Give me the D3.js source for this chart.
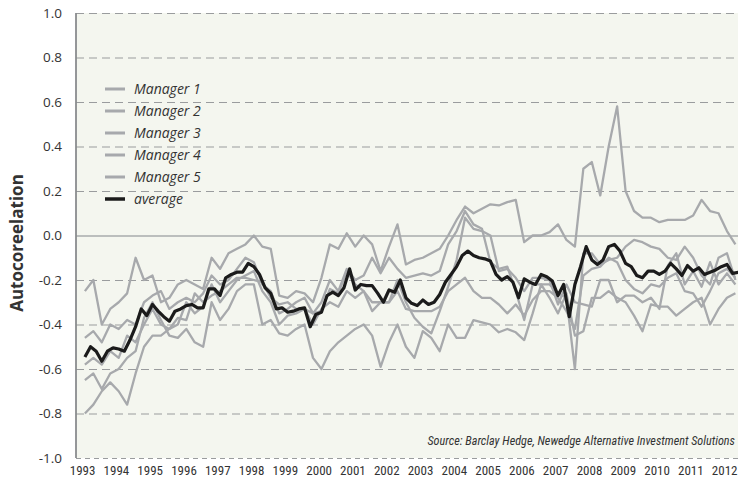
<!DOCTYPE html>
<html><head><meta charset="utf-8">
<script src="https://cdn.jsdelivr.net/npm/d3@7"></script>
<style>body{margin:0;background:#fff}svg{display:block}</style>
</head><body><svg id="c" width="738" height="482"></svg>
<script>
const quarters = [
"1993-02","1993-05","1993-08","1993-11","1994-02","1994-05","1994-08","1994-11",
"1995-02","1995-05","1995-08","1995-11","1996-02","1996-05","1996-08","1996-11",
"1997-02","1997-05","1997-08","1997-11","1998-02","1998-05","1998-08","1998-11",
"1999-02","1999-05","1999-08","1999-11","2000-02","2000-05","2000-08","2000-11",
"2001-02","2001-05","2001-08","2001-11","2002-02","2002-05","2002-08","2002-11",
"2003-02","2003-05","2003-08","2003-11","2004-02","2004-05","2004-08","2004-11",
"2005-02","2005-05","2005-08","2005-11","2006-02","2006-05","2006-08","2006-11",
"2007-02","2007-05","2007-08","2007-11","2008-02","2008-05","2008-08","2008-11",
"2009-02","2009-05","2009-08","2009-11","2010-02","2010-05","2010-08","2010-11",
"2011-02","2011-05","2011-08","2011-11","2012-02","2012-05"];

const bimonths = [
"1993-02","1993-04","1993-06","1993-08","1993-10","1993-12","1994-02","1994-04","1994-06","1994-08","1994-10","1994-12",
"1995-02","1995-04","1995-06","1995-08","1995-10","1995-12","1996-02","1996-04","1996-06","1996-08","1996-10","1996-12",
"1997-02","1997-04","1997-06","1997-08","1997-10","1997-12","1998-02","1998-04","1998-06","1998-08","1998-10","1998-12",
"1999-02","1999-04","1999-06","1999-08","1999-10","1999-12","2000-02","2000-04","2000-06","2000-08","2000-10","2000-12",
"2001-02","2001-04","2001-06","2001-08","2001-10","2001-12","2002-02","2002-04","2002-06","2002-08","2002-10","2002-12",
"2003-02","2003-04","2003-06","2003-08","2003-10","2003-12","2004-02","2004-04","2004-06","2004-08","2004-10","2004-12",
"2005-02","2005-04","2005-06","2005-08","2005-10","2005-12","2006-02","2006-04","2006-06","2006-08","2006-10","2006-12",
"2007-02","2007-04","2007-06","2007-08","2007-10","2007-12","2008-02","2008-04","2008-06","2008-08","2008-10","2008-12",
"2009-02","2009-04","2009-06","2009-08","2009-10","2009-12","2010-02","2010-04","2010-06","2010-08","2010-10","2010-12",
"2011-02","2011-04","2011-06","2011-08","2011-10","2011-12","2012-02","2012-04","2012-06"];

const manager1 = [-0.25,-0.20,-0.40,-0.33,-0.30,-0.26,-0.10,-0.20,-0.18,-0.30,-0.28,-0.22,-0.20,-0.22,-0.24,-0.10,
-0.15,-0.08,-0.06,-0.04,0.00,-0.05,-0.06,-0.27,-0.28,-0.25,-0.26,-0.30,-0.19,-0.04,-0.06,0.01,
-0.05,0.00,-0.04,-0.16,-0.05,0.05,-0.13,-0.11,-0.10,-0.08,-0.06,0.00,0.07,0.13,0.10,0.12,
0.14,0.135,0.15,0.16,-0.03,0.00,0.00,0.015,0.05,-0.02,-0.05,0.30,0.33,0.18,0.40,0.58,
0.20,0.11,0.08,0.08,0.06,0.07,0.07,0.07,0.09,0.16,0.11,0.10,0.02,-0.04];
const manager2 = [-0.46,-0.43,-0.48,-0.40,-0.42,-0.38,-0.40,-0.30,-0.27,-0.25,-0.33,-0.30,-0.28,-0.30,-0.26,-0.18,
-0.22,-0.20,-0.15,-0.10,-0.12,-0.22,-0.25,-0.35,-0.33,-0.30,-0.28,-0.35,-0.30,-0.20,-0.25,-0.15,
-0.20,-0.18,-0.10,-0.17,-0.10,-0.15,-0.19,-0.18,-0.17,-0.18,-0.16,-0.04,0.02,0.11,0.05,0.03,
-0.12,-0.15,-0.14,-0.25,-0.38,-0.22,-0.22,-0.22,-0.26,-0.28,-0.60,-0.08,-0.08,-0.13,-0.11,-0.10,
-0.05,-0.02,-0.03,-0.05,-0.06,-0.10,-0.11,-0.05,-0.10,-0.18,-0.22,-0.10,-0.08,-0.20];
const manager3 = [-0.58,-0.55,-0.58,-0.52,-0.55,-0.45,-0.48,-0.40,-0.33,-0.40,-0.42,-0.40,-0.30,-0.35,-0.32,-0.22,
-0.30,-0.25,-0.20,-0.18,-0.16,-0.25,-0.30,-0.40,-0.36,-0.35,-0.33,-0.40,-0.33,-0.30,-0.32,-0.25,
-0.28,-0.25,-0.30,-0.30,-0.30,-0.25,-0.33,-0.34,-0.34,-0.34,-0.32,-0.25,-0.22,-0.19,-0.25,-0.28,
-0.28,-0.31,-0.35,-0.31,-0.36,-0.29,-0.25,-0.25,-0.28,-0.34,-0.42,-0.18,-0.15,-0.14,-0.10,-0.12,
-0.20,-0.24,-0.26,-0.22,-0.23,-0.19,-0.17,-0.25,-0.26,-0.32,-0.25,-0.17,-0.15,-0.19];
const manager4 = [-0.65,-0.62,-0.69,-0.62,-0.60,-0.55,-0.52,-0.37,-0.30,-0.38,-0.45,-0.46,-0.42,-0.48,-0.50,-0.30,
-0.38,-0.33,-0.25,-0.22,-0.22,-0.40,-0.38,-0.44,-0.45,-0.42,-0.40,-0.55,-0.60,-0.52,-0.48,-0.45,
-0.42,-0.40,-0.45,-0.59,-0.48,-0.40,-0.50,-0.55,-0.43,-0.46,-0.52,-0.40,-0.46,-0.46,-0.38,-0.39,
-0.40,-0.435,-0.42,-0.435,-0.47,-0.35,-0.22,-0.28,-0.35,-0.26,-0.45,-0.43,-0.28,-0.28,-0.25,-0.28,
-0.30,-0.36,-0.43,-0.31,-0.32,-0.32,-0.36,-0.33,-0.30,-0.28,-0.40,-0.33,-0.28,-0.26];
const manager5 = [-0.80,-0.76,-0.70,-0.66,-0.70,-0.76,-0.62,-0.50,-0.45,-0.45,-0.42,-0.37,-0.38,-0.26,-0.30,-0.27,
-0.25,-0.22,-0.19,-0.19,-0.20,-0.21,-0.28,-0.31,-0.30,-0.33,-0.33,-0.35,-0.34,-0.24,-0.26,-0.16,
-0.22,-0.25,-0.34,-0.30,-0.30,-0.20,-0.30,-0.37,-0.41,-0.44,-0.34,-0.23,-0.11,0.08,0.03,0.02,
0.00,-0.16,-0.15,-0.19,-0.25,-0.19,-0.19,-0.20,-0.31,-0.22,-0.30,-0.31,-0.32,-0.20,-0.20,-0.30,
-0.27,-0.27,-0.30,-0.28,-0.33,-0.135,-0.08,-0.22,-0.16,-0.23,-0.12,-0.22,-0.17,-0.22];
const average = [-0.546,-0.50,-0.52,-0.565,-0.52,-0.505,-0.51,-0.52,-0.47,-0.41,-0.33,-0.36,
-0.31,-0.34,-0.365,-0.385,-0.34,-0.33,-0.315,-0.31,-0.325,-0.325,-0.24,-0.24,
-0.27,-0.19,-0.175,-0.165,-0.165,-0.125,-0.14,-0.175,-0.235,-0.26,-0.33,-0.325,
-0.345,-0.34,-0.33,-0.325,-0.41,-0.355,-0.345,-0.27,-0.255,-0.27,-0.235,-0.15,
-0.245,-0.22,-0.225,-0.225,-0.26,-0.30,-0.245,-0.255,-0.20,-0.28,-0.305,-0.315,
-0.29,-0.31,-0.30,-0.265,-0.21,-0.175,-0.14,-0.09,-0.07,-0.09,-0.10,-0.105,
-0.115,-0.175,-0.20,-0.185,-0.21,-0.28,-0.195,-0.21,-0.22,-0.175,-0.185,-0.205,
-0.27,-0.22,-0.365,-0.22,-0.14,-0.05,-0.11,-0.13,-0.11,-0.05,-0.04,-0.07,
-0.125,-0.14,-0.18,-0.19,-0.16,-0.16,-0.175,-0.16,-0.125,-0.15,-0.18,-0.135,
-0.16,-0.145,-0.175,-0.165,-0.155,-0.14,-0.13,-0.17,-0.165];

const seriesNames = ["Manager 1","Manager 2","Manager 3","Manager 4","Manager 5","average"];
const yTicks = [1.0,0.8,0.6,0.4,0.2,0.0,-0.2,-0.4,-0.6,-0.8,-1.0];
const yearTicks = [1993,1994,1995,1996,1997,1998,1999,2000,2001,2002,2003,2004,2005,2006,2007,2008,2009,2010,2011,2012];
const yTitle = "Autocoreelation";
const sourceNote = "Source: Barclay Hedge, Newedge Alternative Investment Solutions";

const NARROW = "'Liberation Sans Narrow','Roboto Condensed','DejaVu Sans Condensed',Arial,sans-serif";
const HUMAN = "'Open Sans','Noto Sans','Liberation Sans',Arial,sans-serif";
const svg = d3.select("#c");
const L = 76, R = 738, T = 13, B = 458;
const toYear = s => { const [yy, mm] = s.split("-").map(Number); return yy + (mm - 1) / 12; };
const x = d3.scaleLinear().domain([1992.82, 2012.41]).range([L, R]);
const y = d3.scaleLinear().domain([-1, 1]).range([B, T]);

svg.append("rect").attr("x", L).attr("y", T).attr("width", R - L).attr("height", B - T).attr("fill", "#f4f6ef");

const yAxis = d3.axisLeft(y).tickValues(yTicks).tickSize(-(R - L)).tickPadding(14).tickFormat(d => d.toFixed(1));
const gy = svg.append("g").attr("transform", `translate(${L},0)`).call(yAxis);
gy.select(".domain").remove();
gy.selectAll(".tick line")
  .attr("stroke", d => d === 0 ? "#a9abad" : "#9a9c9e")
  .attr("stroke-width", d => d === 0 ? 1.6 : 1.1)
  .attr("stroke-dasharray", d => d === 0 ? null : (d === -1 ? "5,4" : "8,5"));
gy.selectAll(".tick text").attr("font-family", HUMAN).attr("font-size", 13.5).attr("fill", "#333");
svg.append("line").attr("x1", L).attr("x2", L).attr("y1", T).attr("y2", B).attr("stroke", "#8a8c8e").attr("stroke-width", 1.8);

const xAxis = d3.axisBottom(x).tickValues(yearTicks).tickSize(0).tickPadding(8).tickFormat(d3.format("d"));
const gx = svg.append("g").attr("transform", `translate(0,${B})`).call(xAxis);
gx.select(".domain").remove();
gx.selectAll(".tick text").attr("font-family", NARROW).attr("font-size", 13).attr("fill", "#333");

svg.append("text").attr("transform", `translate(23,243) rotate(-90)`).attr("text-anchor", "middle")
  .attr("font-family", HUMAN).attr("font-weight", "bold")
  .attr("font-size", 17).attr("fill", "#333").text(yTitle);

svg.append("text").attr("x", 735).attr("y", 445).attr("text-anchor", "end")
  .attr("font-family", NARROW).attr("font-style", "italic").attr("font-size", 12.2).attr("fill", "#333").text(sourceNote);

const qDates = quarters.map(toYear);
const bDates = bimonths.map(toYear);
const qLine = d3.line().x((d, i) => x(qDates[i])).y(d => y(d));
const bLine = d3.line().x((d, i) => x(bDates[i])).y(d => y(d));
const managers = [manager1, manager2, manager3, manager4, manager5];
const g = svg.append("g");
managers.forEach(m => g.append("path").datum(m).attr("d", qLine).attr("fill", "none")
  .attr("stroke", "#a7a9ac").attr("stroke-width", 2.3).attr("stroke-linejoin", "round"));
g.append("path").datum(average).attr("d", bLine).attr("fill", "none")
  .attr("stroke", "#1b1b1b").attr("stroke-width", 3.2).attr("stroke-linejoin", "round");

const lg = svg.append("g");
seriesNames.forEach((n, i) => {
  const yy = 89 + i * 22;
  lg.append("line").attr("x1", 105).attr("x2", 125).attr("y1", yy).attr("y2", yy)
    .attr("stroke", i === 5 ? "#1b1b1b" : "#a7a9ac").attr("stroke-width", i === 5 ? 3.5 : 3);
  lg.append("text").attr("x", 134).attr("y", yy).attr("dy", "0.35em").attr("font-family", HUMAN)
    .attr("font-style", "italic").attr("font-size", 14).attr("fill", "#333").text(n);
});
</script></body></html>
